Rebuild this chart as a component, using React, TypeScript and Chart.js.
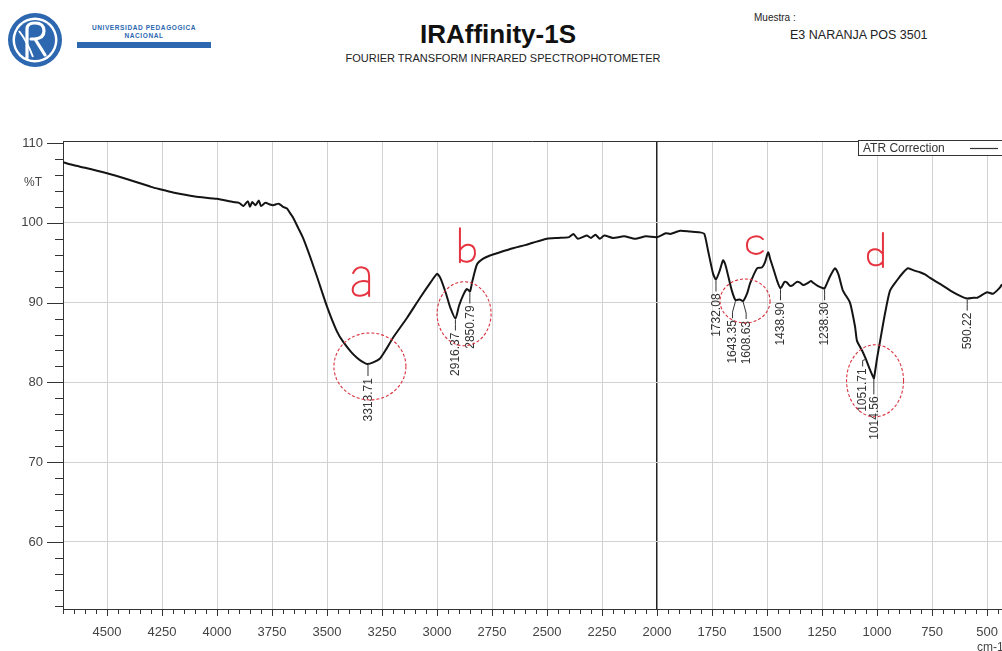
import React, { useEffect, useRef } from 'react';
import { Chart, registerables } from 'chart.js';

Chart.register(...registerables);

// ---- spectrum data (wavenumber cm-1, %T) ----
const wavenumbers = [
  4700, 4650, 4600, 4500, 4400, 4300, 4259, 4200, 4100, 4000,
  3927, 3900, 3880, 3860, 3850, 3840, 3825, 3810, 3800, 3780,
  3760, 3745, 3720, 3700, 3682, 3670, 3655, 3630, 3609, 3575,
  3545, 3500, 3455, 3427, 3390, 3364, 3340, 3318, 3290, 3259,
  3230, 3200, 3136, 3077, 3030, 3000, 2985, 2960, 2940, 2916,
  2900, 2880, 2864, 2850, 2840, 2818, 2790, 2759, 2714, 2655,
  2600, 2564, 2500, 2450, 2400, 2380, 2360, 2320, 2300, 2280,
  2260, 2240, 2200, 2150, 2100, 2050, 2000, 1960, 1940, 1895,
  1850, 1805, 1785, 1768, 1745, 1732, 1715, 1700, 1690, 1677,
  1660, 1643, 1625, 1609, 1590, 1577, 1545, 1523, 1510, 1495,
  1485, 1473, 1455, 1439, 1420, 1409, 1395, 1382, 1365, 1350,
  1335, 1318, 1300, 1291, 1270, 1245, 1238, 1215, 1191, 1175,
  1155, 1123, 1100, 1091, 1068, 1052, 1035, 1018, 1014, 1000,
  986, 964, 941, 909, 880, 859, 830, 805, 780, 759,
  730, 700, 655, 620, 591, 560, 545, 520, 500, 473,
  455, 441, 432,
];
const transmittance = [
  107.6, 107.2, 106.9, 106.2, 105.4, 104.5, 104.2, 103.8, 103.3, 103.0,
  102.6, 102.5, 102.1, 102.7, 102.0, 102.6, 102.2, 102.8, 102.1, 102.5,
  102.3, 102.2, 102.4, 102.0, 101.8, 101.3, 100.7, 99.3, 98.1, 95.6,
  93.2, 89.5, 86.4, 85.1, 83.8, 83.1, 82.6, 82.3, 82.5, 83.0,
  84.2, 85.6, 88.1, 90.6, 92.5, 93.6, 93.1, 91.2, 89.4, 88.0,
  89.6, 91.0, 91.7, 91.4, 92.6, 94.8, 95.5, 95.9, 96.3, 96.8,
  97.2, 97.5, 98.0, 98.1, 98.2, 98.6, 98.0, 98.4, 98.1, 98.5,
  98.0, 98.4, 98.1, 98.3, 98.0, 98.3, 98.2, 98.7, 98.6, 99.0,
  98.9, 98.8, 98.6, 96.5, 93.6, 92.9, 94.0, 95.3, 94.8, 93.4,
  91.5, 90.3, 90.4, 90.2, 91.2, 92.4, 94.3, 94.4, 95.0, 96.3,
  95.4, 94.4, 92.8, 91.8, 92.6, 92.5, 92.1, 92.2, 92.6, 92.5,
  92.2, 92.4, 92.7, 92.5, 92.1, 91.8, 91.8, 93.2, 94.3, 93.5,
  91.5, 90.0, 87.0, 85.2, 84.0, 83.0, 81.8, 80.7, 80.5, 83.0,
  85.2, 88.6, 91.5, 92.8, 93.8, 94.3, 94.0, 93.8, 93.5, 93.1,
  92.6, 92.1, 91.3, 90.8, 90.5, 90.6, 90.6, 91.0, 91.3, 91.1,
  91.5, 91.9, 92.3,
];

// ---- axis ticks ----
const xMajorTicks = [4500, 4250, 4000, 3750, 3500, 3250, 3000, 2750, 2500, 2250, 2000, 1750, 1500, 1250, 1000, 750, 500];
const yMajorTicks = [110, 100, 90, 80, 70, 60];
const xMinorStep = 50;
const yMinorStep = 2;
const xRange = [432, 4700];
const yRange = [51.6, 110.25];
const yUnitLabel = '%T';
const yUnitLabelAt = 105;
const xUnitLabel = 'cm-1';
const emphasizedX = 2000;

// ---- peak labels ----
const peakWavenumbers = [3313.71, 2916.37, 2850.79, 1732.08, 1643.35, 1608.63, 1438.9, 1238.3, 1051.71, 1014.56, 590.22];
const peakTransmittance = [82.3, 88.0, 91.4, 92.9, 90.3, 90.2, 91.8, 91.8, 83.0, 80.5, 90.5];

// ---- hand annotations ----
const annotationLetters = ['a', 'b', 'c', 'd'];
const letterWavenumbers = [3345, 2864, 1555, 1005];
const letterTransmittance = [92.7, 97.2, 97.2, 96.6];
const circleWavenumbers = [3305, 2877, 1600, 1009];
const circleTransmittance = [82.0, 88.6, 90.2, 80.2];

const legendLabel = 'ATR Correction';

const FONT = '"Liberation Sans", Arial, sans-serif';

function drawLetter(ctx: CanvasRenderingContext2D, ch: string) {
  ctx.beginPath();
  if (ch === 'a') {
    ctx.moveTo(-8, -8);
    ctx.bezierCurveTo(-4, -16, 8, -16, 8, -5);
    ctx.lineTo(8, 15);
    ctx.moveTo(8, 1);
    ctx.bezierCurveTo(-3, -3, -10, 5, -8, 11);
    ctx.bezierCurveTo(-6, 16, 4, 16, 8, 10);
  } else if (ch === 'b') {
    ctx.moveTo(-7, -17);
    ctx.lineTo(-7, 17);
    ctx.moveTo(-7, 5);
    ctx.bezierCurveTo(-1, -4, 9, -1, 8, 9);
    ctx.bezierCurveTo(7, 18, -3, 18, -7, 14);
  } else if (ch === 'c') {
    ctx.moveTo(8, -6);
    ctx.bezierCurveTo(3, -11, -8, -9, -8, 0);
    ctx.bezierCurveTo(-8, 9, 3, 11, 8, 6);
  } else if (ch === 'd') {
    ctx.moveTo(7, -17);
    ctx.lineTo(7, 17);
    ctx.moveTo(7, 4);
    ctx.bezierCurveTo(1, -4, -9, -1, -8, 8);
    ctx.bezierCurveTo(-7, 17, 3, 17, 7, 12);
  }
  ctx.stroke();
}

const circleRadii = [
  [36, 33.5],
  [27, 32],
  [25, 22],
  [28.5, 36],
];

const overlayPlugin = {
  id: 'overlay',
  afterDatasetsDraw(chart: any) {
    const { ctx, scales } = chart;
    const x = scales.x;
    const y = scales.y;
    ctx.save();

    // peak labels
    ctx.font = `12px ${FONT}`;
    ctx.fillStyle = '#333';
    ctx.strokeStyle = '#333';
    ctx.lineWidth = 1;
    peakWavenumbers.forEach((wn, i) => {
      const px = x.getPixelForValue(wn);
      const py = y.getPixelForValue(peakTransmittance[i]);
      const label = wn.toFixed(2);
      let tx = px;
      let drop = 12;
      if (label === '1643.35') { tx = px - 3; drop = 18; }
      if (label === '1608.63') { tx = px + 3; drop = 18; }
      if (label === '1051.71') { tx = px - 3; drop = 8; }
      if (label === '1014.56') { drop = 16; }
      ctx.beginPath();
      ctx.moveTo(px, py + 1);
      ctx.lineTo(tx, py + drop - 6);
      ctx.lineTo(tx, py + drop);
      ctx.stroke();
      ctx.save();
      ctx.translate(tx, py + drop + 2);
      ctx.rotate(-Math.PI / 2);
      ctx.textAlign = 'right';
      ctx.textBaseline = 'middle';
      ctx.fillText(label, 0, 0.5);
      ctx.restore();
    });

    // red hand annotations
    ctx.strokeStyle = '#d8323f';
    ctx.lineWidth = 1.1;
    ctx.setLineDash([3, 2]);
    circleWavenumbers.forEach((wn, i) => {
      const cx = x.getPixelForValue(wn);
      const cy = y.getPixelForValue(circleTransmittance[i]);
      ctx.beginPath();
      ctx.ellipse(cx, cy, circleRadii[i][0], circleRadii[i][1], 0, 0, Math.PI * 2);
      ctx.stroke();
    });
    ctx.setLineDash([]);
    ctx.strokeStyle = '#e5333f';
    ctx.lineWidth = 2;
    ctx.lineCap = 'round';
    ctx.lineJoin = 'round';
    annotationLetters.forEach((ch, i) => {
      const lx = x.getPixelForValue(letterWavenumbers[i]);
      const ly = y.getPixelForValue(letterTransmittance[i]);
      ctx.save();
      ctx.translate(lx, ly);
      drawLetter(ctx, ch);
      ctx.restore();
    });
    ctx.restore();
  },
  afterDraw(chart: any) {
    const { ctx, chartArea: ca, scales } = chart;
    const x = scales.x;
    const y = scales.y;
    ctx.save();
    ctx.strokeStyle = '#333';
    ctx.lineWidth = 1;
    // top frame line
    ctx.beginPath();
    ctx.moveTo(ca.left, ca.top + 0.5);
    ctx.lineTo(ca.right, ca.top + 0.5);
    ctx.stroke();
    // y tick marks
    for (let v = yMajorTicks[yMajorTicks.length - 1] - 8; v <= yMajorTicks[0] + 0.01; v += yMinorStep) {
      if (v < yRange[0]) continue;
      const py = Math.round(y.getPixelForValue(v)) + 0.5;
      const len = yMajorTicks.includes(v) ? 16 : 8;
      ctx.beginPath();
      ctx.moveTo(ca.left - len, py);
      ctx.lineTo(ca.left, py);
      ctx.stroke();
    }
    // x tick marks
    for (let v = Math.ceil(xRange[0] / xMinorStep) * xMinorStep; v <= xRange[1]; v += xMinorStep) {
      const px = Math.round(x.getPixelForValue(v)) + 0.5;
      const len = xMajorTicks.includes(v) ? 7 : 5;
      ctx.beginPath();
      ctx.moveTo(px, ca.bottom);
      ctx.lineTo(px, ca.bottom + len);
      ctx.stroke();
    }
    // axis unit labels
    ctx.fillStyle = '#444';
    ctx.font = `12px ${FONT}`;
    ctx.textAlign = 'right';
    ctx.textBaseline = 'middle';
    ctx.fillText(yUnitLabel, ca.left - 21, y.getPixelForValue(yUnitLabelAt));
    ctx.textAlign = 'left';
    ctx.fillText(xUnitLabel, ca.right - 25, ca.bottom + 39);

    // legend box
    const bx = ca.right - 144;
    const by = ca.top - 1;
    ctx.fillStyle = '#fff';
    ctx.fillRect(bx, by, 150, 16);
    ctx.strokeStyle = '#333';
    ctx.strokeRect(bx + 0.5, by + 0.5, 150, 15);
    ctx.fillStyle = '#333';
    ctx.font = `12px ${FONT}`;
    ctx.textAlign = 'left';
    ctx.textBaseline = 'middle';
    ctx.fillText(legendLabel, bx + 5, by + 8.5);
    ctx.beginPath();
    ctx.lineWidth = 1.2;
    ctx.moveTo(bx + 112, by + 8.5);
    ctx.lineTo(bx + 140, by + 8.5);
    ctx.stroke();
    ctx.restore();
  },
};

function SpectrumChart() {
  const ref = useRef<HTMLCanvasElement>(null);
  useEffect(() => {
    if (!ref.current) return;
    const points = wavenumbers.map((w, i) => ({ x: w, y: transmittance[i] }));
    const chart = new Chart(ref.current, {
      type: 'line',
      data: {
        datasets: [
          {
            label: legendLabel,
            data: points,
            borderColor: '#141414',
            borderWidth: 2,
            pointRadius: 0,
            tension: 0.2,
            fill: false,
          },
        ],
      },
      options: {
        animation: false,
        responsive: false,
        events: [],
        layout: { padding: { top: 141, left: 0, right: 0, bottom: 0 } },
        plugins: { legend: { display: false }, tooltip: { enabled: false }, title: { display: false } },
        scales: {
          x: {
            type: 'linear',
            reverse: true,
            min: xRange[0],
            max: xRange[1],
            afterBuildTicks: (scale: any) => {
              const t = [];
              for (let v = Math.ceil(xRange[0] / xMinorStep) * xMinorStep; v <= xRange[1]; v += xMinorStep) t.push({ value: v });
              scale.ticks = t;
            },
            afterFit: (scale: any) => {
              scale.height = 42;
            },
            ticks: {
              autoSkip: false,
              maxRotation: 0,
              padding: 16,
              color: '#444',
              font: { family: FONT, size: 13 },
              callback: (v: any) => (xMajorTicks.includes(v) ? String(v) : ''),
            },
            grid: {
              drawTicks: false,
              color: (c: any) => (c.tick && c.tick.value === emphasizedX ? '#222' : c.tick && xMajorTicks.includes(c.tick.value) ? '#d2d2d2' : 'rgba(0,0,0,0)'),
              lineWidth: (c: any) => (c.tick && c.tick.value === emphasizedX ? 1.5 : 1),
            },
            border: { display: true, color: '#333', width: 1 },
          },
          y: {
            type: 'linear',
            min: yRange[0],
            max: yRange[1],
            afterBuildTicks: (scale: any) => {
              const t = [];
              for (let v = 52; v <= yMajorTicks[0]; v += yMinorStep) t.push({ value: v });
              scale.ticks = t;
            },
            afterFit: (scale: any) => {
              scale.width = 63;
            },
            ticks: {
              autoSkip: false,
              padding: 20,
              color: '#444',
              font: { family: FONT, size: 13 },
              callback: (v: any) => (yMajorTicks.includes(v) ? String(v) : ''),
            },
            grid: {
              drawTicks: false,
              color: (c: any) => (c.tick && yMajorTicks.includes(c.tick.value) && c.tick.value !== yMajorTicks[0] ? '#d2d2d2' : 'rgba(0,0,0,0)'),
            },
            border: { display: true, color: '#333', width: 1 },
          },
        },
      },
      plugins: [overlayPlugin],
    } as any);
    return () => chart.destroy();
  }, []);
  return <canvas ref={ref} width={1002} height={651} style={{ position: 'absolute', left: 0, top: 0, width: 1002, height: 651 }} />;
}

function Logo() {
  return (
    <svg width={56} height={58} viewBox="0 0 56 58" style={{ position: 'absolute', left: 7, top: 11 }}>
      <circle cx={28} cy={29} r={27} fill="#2c67b0" />
      <circle cx={28} cy={29} r={22.5} fill="#ffffff" />
      <circle cx={28} cy={29} r={20} fill="#2c67b0" />
      <path d="M20 47 L20 18 Q20 12 28 12 Q37 12 37 20 Q37 27 28 28 L24 28 M28 28 L38 44" stroke="#fff" strokeWidth={3.2} fill="none" strokeLinecap="round" />
      <path d="M12 20 Q20 30 26 46" stroke="#fff" strokeWidth={2} fill="none" />
    </svg>
  );
}

export default function App() {
  return (
    <div
      style={{
        position: 'fixed',
        left: 0,
        top: 0,
        width: 1002,
        height: 651,
        background: '#fff',
        overflow: 'hidden',
        fontFamily: FONT,
      }}
    >
      <Logo />
      <div style={{ position: 'absolute', left: 76, top: 24, width: 136, textAlign: 'center', color: '#2c67b0', fontSize: 6.5, fontWeight: 700, letterSpacing: 0.6, lineHeight: '8px' }}>
        UNIVERSIDAD PEDAGOGICA
        <br />
        NACIONAL
      </div>
      <div style={{ position: 'absolute', left: 77, top: 42, width: 134, height: 6, background: '#2c67b0' }} />
      <div style={{ position: 'absolute', left: 348, top: 21, width: 300, textAlign: 'center', fontSize: 26, fontWeight: 700, lineHeight: 1, color: '#111' }}>
        IRAffinity-1S
      </div>
      <div style={{ position: 'absolute', left: 303, top: 53, width: 400, textAlign: 'center', fontSize: 11, lineHeight: 1, color: '#222' }}>
        FOURIER TRANSFORM INFRARED SPECTROPHOTOMETER
      </div>
      <div style={{ position: 'absolute', left: 754, top: 13, fontSize: 10, lineHeight: 1, color: '#222' }}>Muestra :</div>
      <div style={{ position: 'absolute', left: 790, top: 29, fontSize: 12.5, lineHeight: 1, color: '#222' }}>E3 NARANJA POS 3501</div>
      <SpectrumChart />
    </div>
  );
}
